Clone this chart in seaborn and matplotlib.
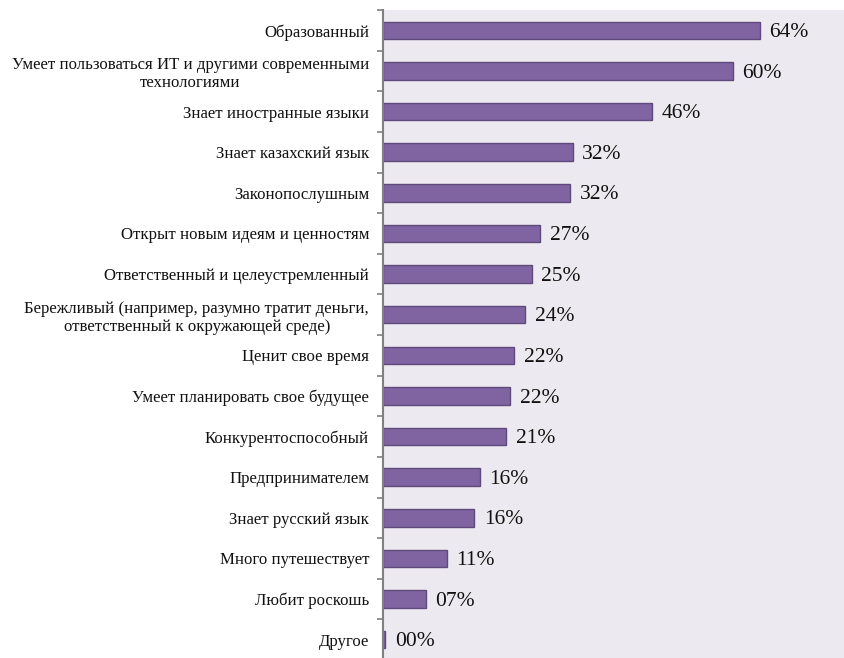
import matplotlib
matplotlib.use("Agg")
import matplotlib.pyplot as plt
from matplotlib.ticker import FixedLocator
import seaborn as sns
import pandas as pd
import numpy as np

categories = [
    "Образованный",
    "Умеет пользоваться ИТ и другими современными\nтехнологиями",
    "Знает иностранные языки",
    "Знает казахский язык",
    "Законопослушным",
    "Открыт новым идеям и ценностям",
    "Ответственный и целеустремленный",
    "Бережливый (например, разумно тратит деньги,\nответственный к окружающей среде)",
    "Ценит свое время",
    "Умеет планировать свое будущее",
    "Конкурентоспособный",
    "Предпринимателем",
    "Знает русский язык",
    "Много путешествует",
    "Любит роскошь",
    "Другое",
]
shares = [64.4, 59.8, 45.9, 32.4, 32.0, 26.8, 25.4, 24.3, 22.4, 21.7, 21.0,
          16.5, 15.6, 10.9, 7.3, 0.4]

df = pd.DataFrame({"category": categories, "share": shares})

sns.set_theme(style="white")
plt.rcParams["font.family"] = ["Liberation Serif", "DejaVu Serif"]

fig = plt.figure(figsize=(8.44, 6.58), dpi=100)
ax = fig.add_axes([383 / 844, -2 / 658, 461 / 844, 650 / 658])
ax.set_facecolor("#ECEAF0")

sns.barplot(data=df, x="share", y="category", orient="h", ax=ax,
            color="#8064A2", saturation=1, width=0.43,
            edgecolor="#5E4A7C", linewidth=1.0)

ax.set_xlim(0, 78.8)
ax.set_ylim(len(categories) - 0.5, -0.5)
ax.set_xlabel("")
ax.set_ylabel("")
ax.set_xticks([])

for i, v in enumerate(shares):
    ax.annotate(f"{v:02.0f}%", xy=(v, i), xytext=(7, -1.5),
                textcoords="offset points", va="center", ha="left",
                fontsize=15.5, color="#111111")

ax.tick_params(axis="y", which="major", left=False, length=0, pad=10,
               labelsize=12.1, labelcolor="#111111")
for lbl in ax.get_yticklabels():
    lbl.set_multialignment("center")
ax.yaxis.set_minor_locator(FixedLocator(np.arange(-0.5, len(categories), 1)))
ax.tick_params(axis="y", which="minor", left=True, length=4, width=1.2,
               color="#808080", direction="out")

for side in ("top", "right", "bottom"):
    ax.spines[side].set_visible(False)
ax.spines["left"].set_color("#808080")
ax.spines["left"].set_linewidth(1.5)

fig.savefig("out.png", dpi=100)
